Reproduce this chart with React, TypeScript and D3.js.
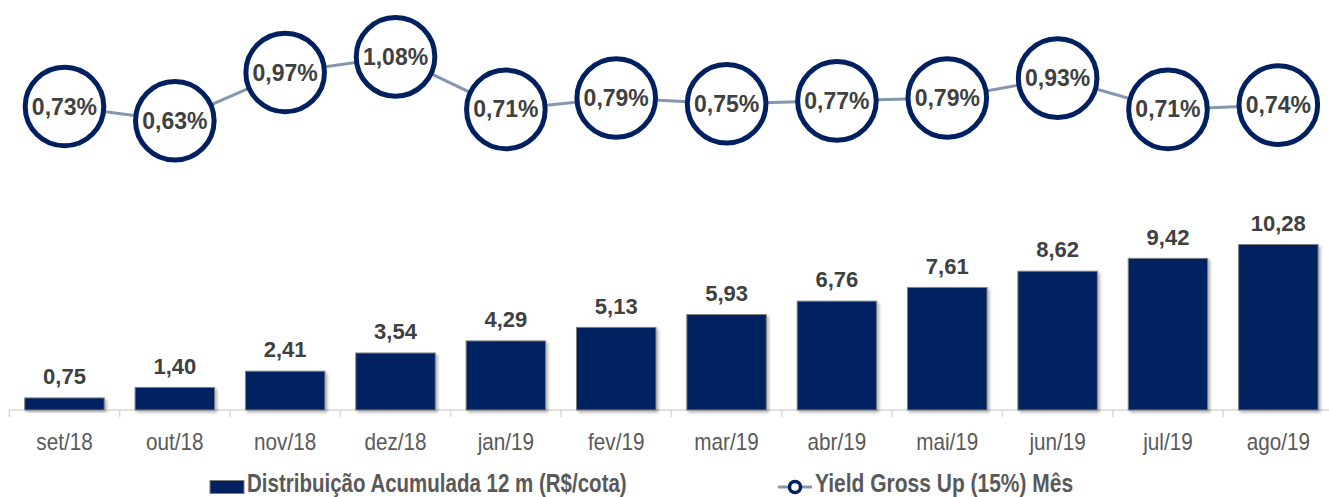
import { useRef, useEffect } from "react";
import * as d3 from "d3";

const months = ["set/18", "out/18", "nov/18", "dez/18", "jan/19", "fev/19", "mar/19", "abr/19", "mai/19", "jun/19", "jul/19", "ago/19"];
const distribution = [0.75, 1.4, 2.41, 3.54, 4.29, 5.13, 5.93, 6.76, 7.61, 8.62, 9.42, 10.28];
const yieldGross = [0.73, 0.63, 0.97, 1.08, 0.71, 0.79, 0.75, 0.77, 0.79, 0.93, 0.71, 0.74];
const legendLabels = ["Distribuição Acumulada 12 m (R$/cota)", "Yield Gross Up (15%) Mês"];

const NAVY = "#002060";
const FONT = "'Liberation Sans', Arial, sans-serif";

export default function App() {
  const svgRef = useRef<SVGSVGElement>(null);

  useEffect(() => {
    document.body.style.margin = "0";
    const w = 1329;
    const h = 497;
    const svg = d3.select(svgRef.current).attr("width", w).attr("height", h);
    svg.selectAll("*").remove();

    const comma = (v: number) => d3.format(".2f")(v).replace(".", ",");

    // scales
    const x = d3.scaleBand().domain(months).range([9.3, 1333.5]).padding(0);
    const bw = x.bandwidth() * 0.72;
    const yBar = d3.scaleLinear().domain([0, 12]).range([410, 410 - 12 * 16.1]);
    const yLine = d3.scaleLinear().domain([0.6, 1.1]).range([125, 54]);

    const defs = svg.append("defs");
    const f = defs.append("filter").attr("id", "shadow").attr("x", "-10%").attr("y", "-10%").attr("width", "130%").attr("height", "130%");
    f.append("feDropShadow").attr("dx", 2).attr("dy", 2).attr("stdDeviation", 1.5).attr("flood-color", "#000").attr("flood-opacity", 0.3);

    // axis
    const axis = svg.append("g");
    axis.append("line").attr("x1", 9.3).attr("x2", w).attr("y1", 410).attr("y2", 410).attr("stroke", "#d9d9d9").attr("stroke-width", 1.5);
    axis
      .selectAll("line.tick")
      .data(months)
      .join("line")
      .attr("class", "tick")
      .attr("x1", (d) => x(d)!)
      .attr("x2", (d) => x(d)!)
      .attr("y1", 410)
      .attr("y2", 417)
      .attr("stroke", "#d9d9d9")
      .attr("stroke-width", 1.5);
    axis
      .selectAll("text")
      .data(months)
      .join("text")
      .attr("transform", (d) => `translate(${x(d)! + x.bandwidth() / 2},450) scale(0.9,1)`)
      .attr("text-anchor", "middle")
      .style("font-family", FONT)
      .style("font-size", "23px")
      .style("fill", "#595959")
      .text((d) => d);

    // bars
    svg
      .append("g")
      .selectAll("rect")
      .data(distribution)
      .join("rect")
      .attr("x", (v, i) => x(months[i])! + (x.bandwidth() - bw) / 2)
      .attr("y", (v) => yBar(v))
      .attr("width", bw)
      .attr("height", (v) => yBar(0) - yBar(v))
      .attr("fill", NAVY)
      .attr("stroke", "#7f7f7f")
      .attr("stroke-width", 1)
      .attr("filter", "url(#shadow)");

    svg
      .append("g")
      .selectAll("text")
      .data(distribution)
      .join("text")
      .attr("x", (v, i) => x(months[i])! + x.bandwidth() / 2)
      .attr("y", (v) => yBar(v) - 21.5)
      .attr("dy", "0.35em")
      .attr("text-anchor", "middle")
      .style("font-family", FONT)
      .style("font-size", "22px")
      .style("font-weight", "bold")
      .style("fill", "#404040")
      .text((v) => comma(v));

    // yield line
    const cx = (i: number) => x(months[i])! + x.bandwidth() / 2;
    const line = d3
      .line<number>()
      .x((v, i) => cx(i))
      .y((v) => yLine(v));
    svg.append("path").datum(yieldGross).attr("d", line).attr("fill", "none").attr("stroke", "#8497b0").attr("stroke-width", 3);

    const pts = svg.append("g").selectAll("g").data(yieldGross).join("g");
    pts
      .append("circle")
      .attr("cx", (v, i) => cx(i))
      .attr("cy", (v) => yLine(v))
      .attr("r", 39.3)
      .attr("fill", "#fff")
      .attr("stroke", NAVY)
      .attr("stroke-width", 5);
    pts
      .append("text")
      .attr("x", (v, i) => cx(i))
      .attr("y", (v) => yLine(v))
      .attr("dy", "0.35em")
      .attr("text-anchor", "middle")
      .style("font-family", FONT)
      .style("font-size", "23px")
      .style("font-weight", "bold")
      .style("fill", "#404040")
      .text((v) => comma(v) + "%");

    // legend
    const lg = svg.append("g");
    lg.append("rect").attr("x", 210).attr("y", 480.5).attr("width", 34).attr("height", 13).attr("fill", NAVY).attr("stroke", "#7f7f7f");
    lg.append("text")
      .attr("transform", "translate(247,492) scale(0.82,1)")
      .style("font-family", FONT)
      .style("font-size", "25px")
      .style("font-weight", "bold")
      .style("fill", "#595959")
      .text(legendLabels[0]);
    lg.append("line").attr("x1", 778).attr("x2", 812).attr("y1", 487).attr("y2", 487).attr("stroke", "#8497b0").attr("stroke-width", 3);
    lg.append("circle").attr("cx", 795).attr("cy", 487).attr("r", 5.5).attr("fill", "#fff").attr("stroke", NAVY).attr("stroke-width", 3.5);
    lg.append("text")
      .attr("transform", "translate(815,492) scale(0.84,1)")
      .style("font-family", FONT)
      .style("font-size", "25px")
      .style("font-weight", "bold")
      .style("fill", "#595959")
      .text(legendLabels[1]);
  }, []);

  return (
    <div className="chart">
      <svg ref={svgRef} style={{ display: "block" }}></svg>
    </div>
  );
}
